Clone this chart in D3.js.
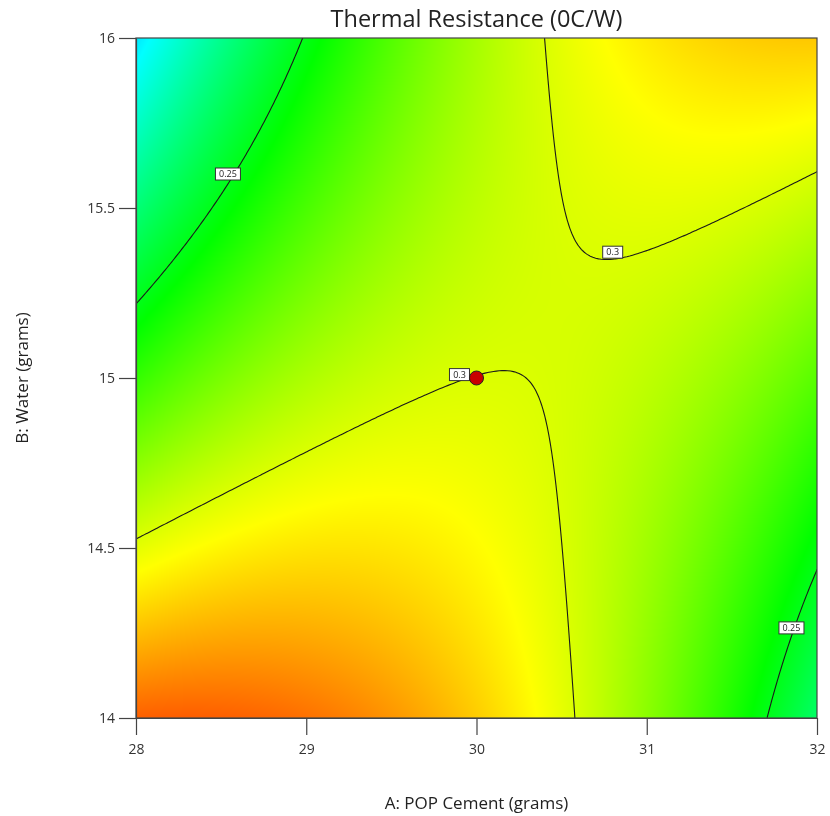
<!DOCTYPE html>
<html>
<head>
<meta charset="utf-8">
<script src="https://cdn.jsdelivr.net/npm/d3@7"></script>
<style>
  body { margin: 0; background: #fff; }
  #wrap { position: relative; width: 830px; height: 816px; }
  #wrap canvas, #wrap svg { position: absolute; left: 0; top: 0; }
  text { font-family: "Open Sans", "Noto Sans", sans-serif; }
</style>
</head>
<body>
<div id="wrap"></div>
<script>
// response surface: Thermal Resistance as a quadratic model in coded units
// coded x = (A - 30) / 2, coded y = (B - 15) / 1
const modelTerms = ["Intercept", "A", "B", "AB", "A^2", "B^2"];
const modelCoefs = [0.30011, 0.00376, -0.01444, 0.057, -0.03095, 0.00342];
const factorCenter = [30, 15];
const factorHalfRange = [2, 1];

const xTicks = [28, 29, 30, 31, 32];
const yTicks = [14, 14.5, 15, 15.5, 16];
const contourLevels = [0.25, 0.3];

// contour labels (data units)
const labelText = ["0.25", "0.25", "0.3", "0.3"];
const labelA = [28.54, 31.85, 30.8, 29.9];
const labelB = [15.6, 14.265, 15.37, 15.01];

// design point
const pointA = [30];
const pointB = [15];

// colour ramp stops (response values)
const colorStops = [0.15, 0.2025, 0.255, 0.3075, 0.36];

const width = 830, height = 816;
const margin = {left: 136, right: 13, top: 38, bottom: 98};
const plotW = width - margin.left - margin.right;
const plotH = height - margin.top - margin.bottom;

const x = d3.scaleLinear().domain([28, 32]).range([margin.left, margin.left + plotW]);
const y = d3.scaleLinear().domain([14, 16]).range([margin.top + plotH, margin.top]);
const color = d3.scaleLinear().domain(colorStops)
    .range(["#0000ff", "#00ffff", "#00ff00", "#ffff00", "#ff0000"])
    .clamp(true);

function response(a, b){
    let cx = (a - factorCenter[0]) / factorHalfRange[0];
    let cy = (b - factorCenter[1]) / factorHalfRange[1];
    let t = [1, cx, cy, cx * cy, cx * cx, cy * cy];
    return d3.sum(modelCoefs, (c, i) => c * t[i]);
}

// --- filled surface on canvas
const wrap = d3.select("#wrap");
const canvas = wrap.append("canvas").attr("width", width).attr("height", height).node();
const ctx = canvas.getContext("2d");
const img = ctx.createImageData(plotW, plotH);
for(let j = 0; j < plotH; j++){
    let b = y.invert(margin.top + j + 0.5);
    for(let i = 0; i < plotW; i++){
        let a = x.invert(margin.left + i + 0.5);
        let c = d3.rgb(color(response(a, b)));
        let k = (j * plotW + i) * 4;
        img.data[k] = c.r; img.data[k + 1] = c.g; img.data[k + 2] = c.b; img.data[k + 3] = 255;
    }
}
ctx.putImageData(img, margin.left, margin.top);

// --- svg overlay
const svg = wrap.append("svg").attr("width", width).attr("height", height);

svg.append("clipPath").attr("id", "plotClip")
  .append("rect")
    .attr("x", margin.left).attr("y", margin.top)
    .attr("width", plotW).attr("height", plotH);

// contour lines
const n = 241;
const gridA = d3.range(n).map(i => 28 + i * 4 / (n - 1));
const gridB = d3.range(n).map(j => 14 + j * 2 / (n - 1));
const values = new Array(n * n);
for(let j = 0; j < n; j++){
    for(let i = 0; i < n; i++){
        values[j * n + i] = response(gridA[i], gridB[j]);
    }
}
const contours = d3.contours().size([n, n]).thresholds(contourLevels)(values);
const toA = d3.scaleLinear().domain([0.5, n - 0.5]).range([28, 32]);
const toB = d3.scaleLinear().domain([0.5, n - 0.5]).range([14, 16]);
const path = d3.geoPath(d3.geoTransform({
    point: function(gx, gy){ this.stream.point(x(toA(gx)), y(toB(gy))); }
}));

svg.append("g").attr("clip-path", "url(#plotClip)")
  .selectAll("path").data(contours).join("path")
    .attr("d", path)
    .attr("fill", "none")
    .attr("stroke", "#1a1a1a")
    .attr("stroke-width", 1.1);

// frame
svg.append("rect")
    .attr("x", margin.left).attr("y", margin.top)
    .attr("width", plotW).attr("height", plotH)
    .attr("fill", "none").attr("stroke", "#444").attr("stroke-width", 1.2);

// axes
const xAxis = svg.append("g")
    .attr("transform", `translate(0,${margin.top + plotH})`)
    .call(d3.axisBottom(x).tickValues(xTicks).tickSize(17).tickSizeOuter(0).tickPadding(9).tickFormat(d3.format("d")));
const yAxis = svg.append("g")
    .attr("transform", `translate(${margin.left},0)`)
    .call(d3.axisLeft(y).tickValues(yTicks).tickSize(17).tickSizeOuter(0).tickPadding(4).tickFormat(d => d));
for(let ax of [xAxis, yAxis]){
    ax.select(".domain").attr("stroke", "#444").attr("stroke-width", 1.2);
    ax.selectAll(".tick line").attr("stroke", "#444").attr("stroke-width", 1.2);
    ax.selectAll(".tick text").attr("fill", "#333").style("font-size", "14px")
        .style("font-family", "'Open Sans', 'Noto Sans', sans-serif");
}

// contour labels
const labels = svg.append("g").selectAll("g")
    .data(labelText.map((t, i) => ({t: t, a: labelA[i], b: labelB[i]})))
    .join("g")
    .attr("transform", d => `translate(${x(d.a)},${y(d.b)})`);
labels.append("rect")
    .attr("x", d => d.t.length > 3 ? -12.5 : -10)
    .attr("y", -6)
    .attr("width", d => d.t.length > 3 ? 25 : 20)
    .attr("height", 12)
    .attr("fill", "#fff").attr("stroke", "#333").attr("stroke-width", 1);
labels.append("text")
    .attr("text-anchor", "middle").attr("dy", "0.35em")
    .style("font-size", "9px").attr("fill", "#222")
    .text(d => d.t);

// design point
svg.append("g").selectAll("circle")
    .data(pointA.map((a, i) => [a, pointB[i]]))
    .join("circle")
    .attr("cx", d => x(d[0])).attr("cy", d => y(d[1]))
    .attr("r", 7)
    .attr("fill", "#c80000").attr("stroke", "#222").attr("stroke-width", 1);

// titles
svg.append("text")
    .attr("x", margin.left + plotW / 2).attr("y", 27)
    .attr("text-anchor", "middle").attr("fill", "#222")
    .style("font-size", "23.5px")
    .text("Thermal Resistance (0C/W)");
svg.append("text")
    .attr("x", margin.left + plotW / 2).attr("y", 809)
    .attr("text-anchor", "middle").attr("fill", "#222")
    .style("font-size", "17px")
    .text("A: POP Cement (grams)");
svg.append("text")
    .attr("transform", `translate(28,${margin.top + plotH / 2}) rotate(-90)`)
    .attr("text-anchor", "middle").attr("fill", "#222")
    .style("font-size", "17px")
    .text("B: Water (grams)");
</script>
</body>
</html>
